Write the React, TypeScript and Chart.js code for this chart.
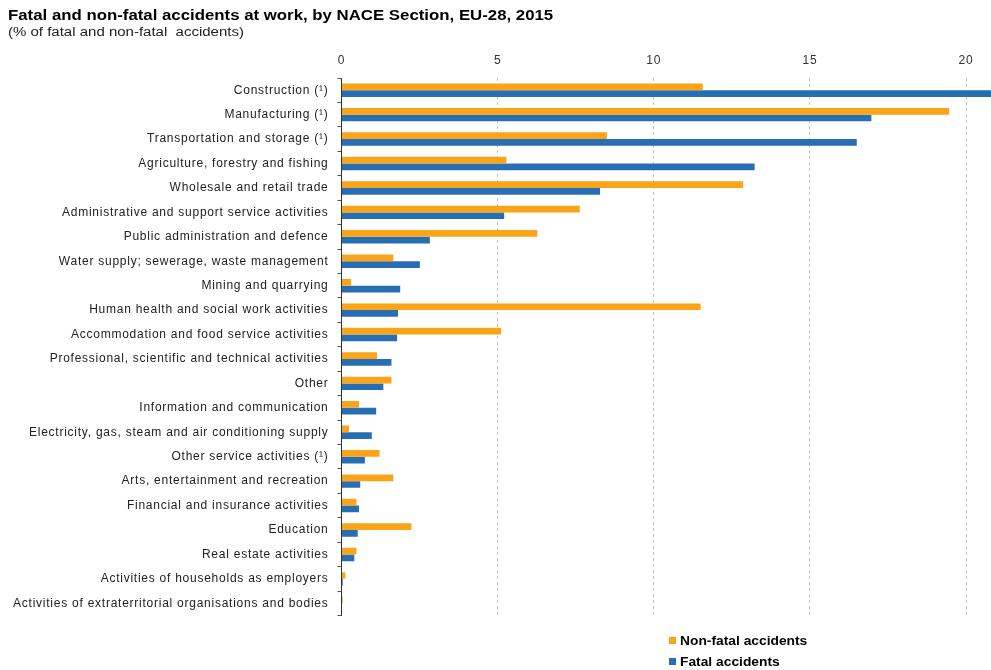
import React, { useEffect, useRef } from "react";
import { Chart, registerables } from "chart.js";

Chart.register(...registerables);

const categories = [
  "Construction (¹)",
  "Manufacturing (¹)",
  "Transportation and storage (¹)",
  "Agriculture, forestry and fishing",
  "Wholesale and retail trade",
  "Administrative and support service activities",
  "Public administration and defence",
  "Water supply; sewerage, waste management",
  "Mining and quarrying",
  "Human health and social work activities",
  "Accommodation and food service activities",
  "Professional, scientific and technical activities",
  "Other",
  "Information and communication",
  "Electricity, gas, steam and air conditioning supply",
  "Other service activities (¹)",
  "Arts, entertainment and recreation",
  "Financial and insurance activities",
  "Education",
  "Real estate activities",
  "Activities of households as employers",
  "Activities of extraterritorial organisations and bodies",
];

const nonFatal = [
  11.57, 19.46, 8.5, 5.28, 12.86, 7.63, 6.27, 1.66, 0.31, 11.5, 5.11, 1.14,
  1.6, 0.56, 0.24, 1.22, 1.66, 0.48, 2.24, 0.48, 0.12, 0.04,
];

const fatal = [
  20.9, 16.97, 16.5, 13.23, 8.28, 5.21, 2.83, 2.51, 1.88, 1.81, 1.78, 1.6,
  1.34, 1.11, 0.97, 0.75, 0.6, 0.56, 0.52, 0.41, 0.04, 0.01,
];

const xTicks = [0, 5, 10, 15, 20];
const xMax = 20.8;

const ORANGE = "#FAA519";
const BLUE = "#286EB4";
const FONT = "'Liberation Sans', Arial, sans-serif";

export default function App() {
  const ref = useRef<HTMLCanvasElement | null>(null);

  useEffect(() => {
    document.body.style.margin = "0";
    const canvas = ref.current;
    if (!canvas) return;
    const chart = new Chart(canvas, {
      type: "bar",
      data: {
        labels: categories,
        datasets: [
          {
            label: "Non-fatal accidents",
            data: nonFatal,
            backgroundColor: ORANGE,
            categoryPercentage: 0.55,
            barPercentage: 1,
          },
          {
            label: "Fatal accidents",
            data: fatal,
            backgroundColor: BLUE,
            categoryPercentage: 0.55,
            barPercentage: 1,
          },
        ],
      },
      options: {
        indexAxis: "y",
        animation: false,
        responsive: false,
        devicePixelRatio: 1,
        layout: { padding: { top: 0, left: 0, right: 0, bottom: 54.5 } },
        plugins: {
          legend: { display: false },
          tooltip: { enabled: false },
          title: { display: false },
        },
        scales: {
          x: {
            position: "top",
            min: 0,
            max: xMax,
            afterBuildTicks: (scale: any) => {
              scale.ticks = xTicks.map((v) => ({ value: v }));
            },
            afterFit: (scale: any) => {
              scale.height = 78;
            },
            border: { display: false, dash: [3, 3] },
            grid: {
              drawTicks: false,
              color: (ctx: any) =>
                ctx.tick && ctx.tick.value === 0 ? "rgba(0,0,0,0)" : "#c4c4c4",
              lineWidth: 1,
            },
            ticks: {
              padding: 10,
              color: "#333",
              font: { family: FONT, size: 12 },
            },
          },
          y: {
            afterFit: (scale: any) => {
              scale.width = 341.5;
            },
            border: { display: true, color: "#333", width: 1 },
            grid: {
              drawOnChartArea: false,
              drawTicks: true,
              tickLength: 4,
              tickColor: "#555",
            },
            ticks: {
              padding: 9,
              color: "#222",
              autoSkip: false,
              font: { family: FONT, size: 12 },
            },
          },
        },
      },
      plugins: [
        {
          id: "spacing",
          beforeDraw: (c: any) => {
            c.ctx.letterSpacing = "0.75px";
          },
        },
      ],
    } as any);
    return () => chart.destroy();
  }, []);

  const legendItem = (color: string, text: string) => (
    <div style={{ display: "flex", alignItems: "center", height: 21 }}>
      <span
        style={{
          display: "inline-block",
          width: 7,
          height: 7,
          background: color,
          marginRight: 4,
        }}
      />
      <span
        style={{
          fontWeight: "bold",
          fontSize: 12,
          color: "#000",
          display: "inline-block",
          transform: "scaleX(1.15)",
          transformOrigin: "left center",
        }}
      >
        {text}
      </span>
    </div>
  );

  return (
    <div
      style={{
        position: "fixed",
        left: 0,
        top: 0,
        width: 991,
        height: 670,
        background: "#fff",
        fontFamily: FONT,
        overflow: "hidden",
      }}
    >
      <canvas
        ref={ref}
        width={991}
        height={670}
        style={{ position: "absolute", left: 0, top: 0, width: 991, height: 670 }}
      />
      <div
        style={{
          position: "absolute",
          left: 8,
          top: 6,
          fontWeight: "bold",
          fontSize: 14,
          lineHeight: "18px",
          color: "#000",
          whiteSpace: "nowrap",
          transform: "scaleX(1.2)",
          transformOrigin: "left top",
        }}
      >
        Fatal and non-fatal accidents at work, by NACE Section, EU-28, 2015
      </div>
      <div
        style={{
          position: "absolute",
          left: 8,
          top: 24,
          fontSize: 12,
          lineHeight: "16px",
          color: "#222",
          whiteSpace: "pre",
          transform: "scaleX(1.25)",
          transformOrigin: "left top",
        }}
      >
        {"(% of fatal and non-fatal  accidents)"}
      </div>
      <div style={{ position: "absolute", left: 669, top: 630 }}>
        {legendItem(ORANGE, "Non-fatal accidents")}
        {legendItem(BLUE, "Fatal accidents")}
      </div>
    </div>
  );
}
